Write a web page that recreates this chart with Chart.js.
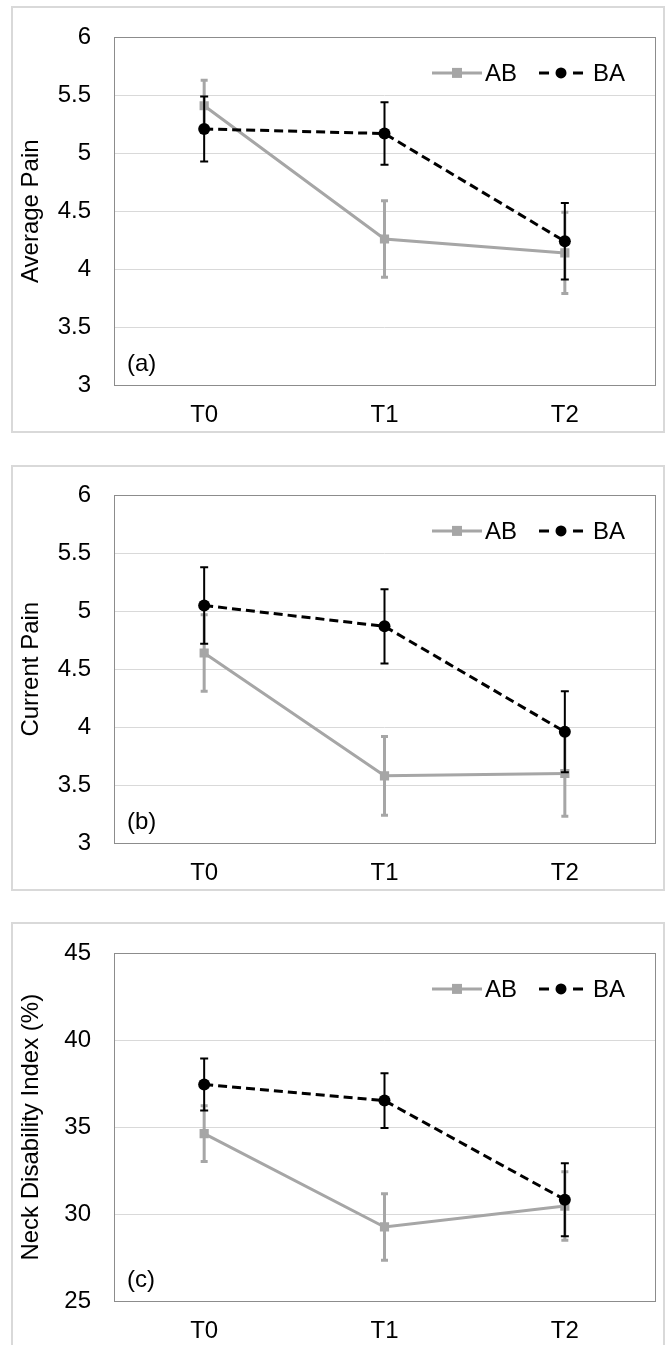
<!DOCTYPE html>
<html>
<head>
<meta charset="utf-8">
<script src="https://cdn.jsdelivr.net/npm/chart.js@4.4.1/dist/chart.umd.min.js"></script>
<style>
  body { margin: 0; background: #fff; width: 665px; height: 1345px; position: relative; overflow: hidden; }
  canvas { position: absolute; left: 0; }
  .frame { position: absolute; left: 11px; width: 654px; border: 2px solid #d9d9d9; box-sizing: border-box; }
</style>
</head>
<body>
<div class="frame" style="top:6px;height:427px"></div>
<div class="frame" style="top:465px;height:426px"></div>
<div class="frame" style="top:922px;height:430px"></div>
<canvas id="avgPain" width="665" height="440" style="top:0px"></canvas>
<canvas id="curPain" width="665" height="440" style="top:458px"></canvas>
<canvas id="ndi" width="665" height="440" style="top:916px"></canvas>
<script>
// time points
const timePoints = ['T0', 'T1', 'T2']

// (a) average pain, mean and error
const avgPainAB = [5.41, 4.26, 4.14]
const avgPainABErr = [0.22, 0.33, 0.35]
const avgPainBA = [5.21, 5.17, 4.24]
const avgPainBAErr = [0.28, 0.27, 0.33]

// (b) current pain
const curPainAB = [4.64, 3.58, 3.60]
const curPainABErr = [0.33, 0.34, 0.37]
const curPainBA = [5.05, 4.87, 3.96]
const curPainBAErr = [0.33, 0.32, 0.35]

// (c) neck disability index
const ndiAB = [34.63, 29.26, 30.46]
const ndiABErr = [1.6, 1.91, 1.97]
const ndiBA = [37.46, 36.53, 30.83]
const ndiBAErr = [1.5, 1.58, 2.1]

// y axis ranges
const painAxis = { min: 3, max: 6, step: 0.5 }
const ndiAxis = { min: 25, max: 45, step: 5 }

const GRAY = '#a6a6a6'
const FONT = '"Liberation Sans", Arial, sans-serif'
Chart.defaults.font.family = FONT
Chart.defaults.font.size = 24
Chart.defaults.color = '#000'

const plotFrame = {
  id: 'plotFrame',
  beforeDatasetsDraw(chart) {
    const { ctx, chartArea: a } = chart
    ctx.save()
    ctx.strokeStyle = '#8c8c8c'
    ctx.lineWidth = 1
    ctx.strokeRect(Math.round(a.left) + 0.5, Math.round(a.top) + 0.5, Math.round(a.width), Math.round(a.height))
    ctx.restore()
  }
}

const errorBars = {
  id: 'errorBars',
  beforeDatasetDraw(chart, args) {
    const ds = chart.data.datasets[args.index]
    if (!ds.errors) return
    const y = chart.scales.y
    const ctx = chart.ctx
    ctx.save()
    ctx.strokeStyle = ds.borderColor
    ctx.lineWidth = ds.errWidth
    ctx.setLineDash([])
    args.meta.data.forEach((pt, i) => {
      const v = ds.data[i], e = ds.errors[i]
      const top = y.getPixelForValue(v + e)
      const bot = y.getPixelForValue(v - e)
      ctx.beginPath()
      ctx.moveTo(pt.x, top); ctx.lineTo(pt.x, bot)
      ctx.moveTo(pt.x - ds.capHalf, top); ctx.lineTo(pt.x + ds.capHalf, top)
      ctx.moveTo(pt.x - ds.capHalf, bot); ctx.lineTo(pt.x + ds.capHalf, bot)
      ctx.stroke()
    })
    ctx.restore()
  }
}

const lineLegend = {
  id: 'lineLegend',
  afterDatasetsDraw(chart) {
    const { ctx, chartArea } = chart
    const y = chartArea.top + 35.5
    let x = chartArea.right - 223
    ctx.save()
    chart.data.datasets.forEach(ds => {
      const dashed = !!ds.borderDash
      const w = dashed ? 44 : 50
      ctx.strokeStyle = ds.borderColor
      ctx.lineWidth = ds.borderWidth
      ctx.setLineDash([])
      ctx.beginPath()
      if (dashed) {
        ctx.moveTo(x, y); ctx.lineTo(x + 10, y)
        ctx.moveTo(x + w - 10, y); ctx.lineTo(x + w, y)
      } else {
        ctx.moveTo(x, y); ctx.lineTo(x + w, y)
      }
      ctx.stroke()
      ctx.fillStyle = ds.pointBackgroundColor
      const cx = x + w / 2
      if (ds.pointStyle === 'rect') {
        ctx.fillRect(cx - 5, y - 5, 10, 10)
      } else {
        ctx.beginPath(); ctx.arc(cx, y, 5.5, 0, Math.PI * 2); ctx.fill()
      }
      ctx.fillStyle = '#000'
      ctx.font = '24px ' + FONT
      ctx.textBaseline = 'middle'
      ctx.textAlign = 'left'
      const tx = x + w + (dashed ? 10 : 3)
      ctx.fillText(ds.label, tx, y + 1)
      x = tx + ctx.measureText(ds.label).width + 22
    })
    ctx.restore()
  }
}

const panelLabel = {
  id: 'panelLabel',
  afterDatasetsDraw(chart, args, opts) {
    const { ctx, chartArea } = chart
    ctx.save()
    ctx.fillStyle = '#000'
    ctx.font = '24px ' + FONT
    ctx.textBaseline = 'middle'
    ctx.fillText(opts.text, chartArea.left + 13, chartArea.bottom - 21)
    ctx.restore()
  }
}

const makeChart = (id, title, tag, axis, ab, abErr, ba, baErr) => {
  return new Chart(document.getElementById(id), {
    type: 'line',
    data: {
      labels: timePoints,
      datasets: [
        {
          label: 'AB', data: ab, errors: abErr, order: 1,
          borderColor: GRAY, borderWidth: 3, errWidth: 3, capHalf: 3.5,
          pointStyle: 'rect', pointRadius: 6.5, pointBackgroundColor: GRAY, pointBorderWidth: 0
        },
        {
          label: 'BA', data: ba, errors: baErr, order: 0,
          borderColor: '#000', borderWidth: 3, borderDash: [9, 5], errWidth: 2, capHalf: 4,
          pointStyle: 'circle', pointRadius: 6, pointBackgroundColor: '#000', pointBorderWidth: 0
        }
      ]
    },
    options: {
      responsive: false,
      animation: false,
      layout: { padding: { top: 23, right: 10, bottom: 5, left: 0 } },
      plugins: {
        legend: { display: false },
        tooltip: { enabled: false },
        panelLabel: { text: tag }
      },
      scales: {
        x: {
          offset: true,
          grid: { display: false, drawTicks: false },
          border: { display: false },
          ticks: { padding: 16 },
          afterFit: (s) => { s.height = 50 }
        },
        y: {
          min: axis.min, max: axis.max,
          grid: { color: '#d9d9d9', lineWidth: 1, drawTicks: false },
          border: { display: false },
          ticks: { stepSize: axis.step, padding: 23, callback: (v) => String(v) },
          title: { display: true, text: title, padding: { top: 17, bottom: 0 } },
          afterFit: (s) => { s.width = 114 }
        }
      }
    },
    plugins: [plotFrame, errorBars, lineLegend, panelLabel]
  })
}

makeChart('avgPain', 'Average Pain', '(a)', painAxis, avgPainAB, avgPainABErr, avgPainBA, avgPainBAErr)
makeChart('curPain', 'Current Pain', '(b)', painAxis, curPainAB, curPainABErr, curPainBA, curPainBAErr)
makeChart('ndi', 'Neck Disability Index (%)', '(c)', ndiAxis, ndiAB, ndiABErr, ndiBA, ndiBAErr)
</script>
</body>
</html>
